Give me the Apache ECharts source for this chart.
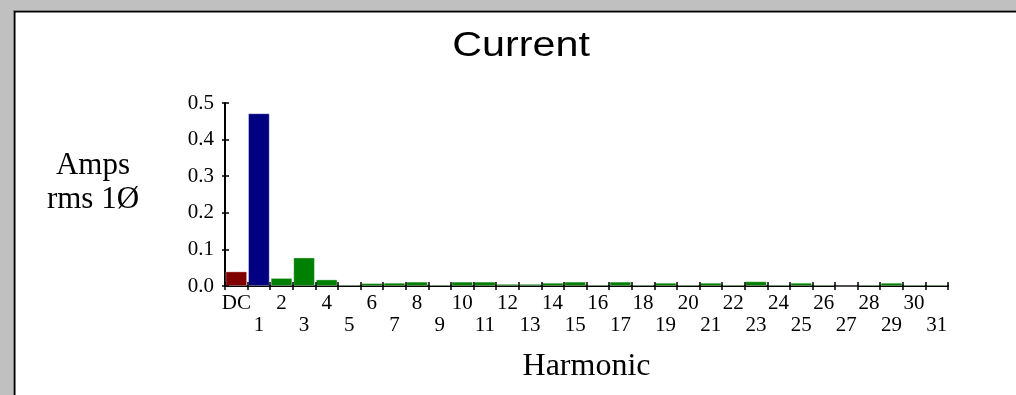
<!DOCTYPE html>
<html>
<head>
<meta charset="utf-8">
<title>Current</title>
<script src="https://cdn.jsdelivr.net/npm/echarts@6/dist/echarts.min.js"></script>
<style>
  html, body { margin: 0; padding: 0; background: #ffffff; }
  #chart { width: 1016px; height: 395px; }
</style>
</head>
<body>
<div id="chart"></div>
<script>
// Harmonic spectrum of the phase current
const harmonics = ['DC', '1', '2', '3', '4', '5', '6', '7', '8', '9', '10', '11', '12', '13', '14', '15',
  '16', '17', '18', '19', '20', '21', '22', '23', '24', '25', '26', '27', '28', '29', '30', '31'];
const ampsRms = [0.040, 0.472, 0.022, 0.078, 0.018, 0.004, 0.008, 0.009, 0.012, 0.004, 0.012, 0.012,
  0.006, 0.006, 0.009, 0.012, 0.004, 0.012, 0.004, 0.009, 0.004, 0.009, 0.004, 0.013,
  0.004, 0.009, 0.004, 0.000, 0.004, 0.009, 0.004, 0.004];
const yTicks = [0, 0.1, 0.2, 0.3, 0.4, 0.5];

const SERIF = '"Liberation Serif", "Times New Roman", serif';
const SANS = '"Liberation Sans", Arial, sans-serif';

function barColor(i) {
  if (i === 0) return '#800000';   // DC component
  if (i === 1) return '#000080';   // fundamental
  return '#008000';                // harmonics
}

const chart = echarts.init(document.getElementById('chart'), null, { renderer: 'canvas' });

const yMin = yTicks[0];
const yMax = yTicks[yTicks.length - 1];
const yStep = yTicks[1] - yTicks[0];

chart.setOption({
  animation: false,
  backgroundColor: '#ffffff',
  title: [
    {
      // units caption beside the value axis
      text: 'Amps\nrms 1Ø',
      left: 93,
      top: 149,
      textAlign: 'center',
      padding: 0,
      textStyle: { fontFamily: SERIF, fontSize: 31, lineHeight: 34, fontWeight: 'normal', color: '#000000' }
    }
  ],
  graphic: [
    // window frame: grey band with sunken edge along top and left
    { type: 'rect', shape: { x: 0, y: 0, width: 1016, height: 10 }, style: { fill: '#c0c0c0' }, silent: true },
    { type: 'rect', shape: { x: 0, y: 0, width: 13, height: 395 }, style: { fill: '#c0c0c0' }, silent: true },
    { type: 'rect', shape: { x: 13, y: 10, width: 1003, height: 1 }, style: { fill: '#808080' }, silent: true },
    { type: 'rect', shape: { x: 13, y: 10, width: 1, height: 385 }, style: { fill: '#808080' }, silent: true },
    { type: 'rect', shape: { x: 14, y: 11, width: 1002, height: 1.5 }, style: { fill: '#000000' }, silent: true },
    { type: 'rect', shape: { x: 14, y: 11, width: 1.5, height: 384 }, style: { fill: '#000000' }, silent: true },
    {
      type: 'text', x: 521, y: 46, scaleX: 1.18, silent: true,
      style: {
        text: 'Current', font: '35px ' + SANS, fill: '#000000',
        textAlign: 'center', textVerticalAlign: 'middle'
      }
    }
  ],
  grid: { left: 225, right: 68, top: 103, bottom: 109, containLabel: false },
  xAxis: [
    {
      type: 'category',
      data: harmonics,
      boundaryGap: true,
      name: 'Harmonic',
      nameLocation: 'middle',
      nameGap: 65,
      nameTextStyle: { fontFamily: SERIF, fontSize: 32, color: '#000000' },
      axisLine: { show: true, onZero: false, lineStyle: { color: '#000000', width: 2 } },
      axisTick: { show: true, interval: 0, length: 4, lineStyle: { color: '#000000', width: 1.5 } },
      axisLabel: {
        interval: 0,
        margin: 6,
        fontFamily: SERIF,
        fontSize: 21,
        lineHeight: 22,
        color: '#000000',
        formatter: (v, i) => (i % 2 ? '\n' + v : v)
      },
      splitLine: { show: false }
    },
    {
      // inner half of the crossing tick marks
      type: 'category',
      data: harmonics,
      position: 'bottom',
      z: 5,
      axisLine: { show: false, onZero: false },
      axisTick: { show: true, inside: true, interval: 0, length: 4, lineStyle: { color: '#000000', width: 1.5 } },
      axisLabel: { show: false },
      splitLine: { show: false }
    }
  ],
  yAxis: [
    {
      type: 'value',
      min: yMin,
      max: yMax,
      interval: yStep,
      axisLine: { show: true, lineStyle: { color: '#000000', width: 2 } },
      axisTick: { show: true, length: 3, lineStyle: { color: '#000000', width: 1.5 } },
      axisLabel: {
        margin: 11,
        fontFamily: SERIF,
        fontSize: 21,
        color: '#000000',
        formatter: v => v.toFixed(1)
      },
      splitLine: { show: false }
    },
    {
      type: 'value',
      position: 'left',
      min: yMin,
      max: yMax,
      interval: yStep,
      z: 5,
      axisLine: { show: false },
      axisTick: { show: true, inside: true, length: 4, lineStyle: { color: '#000000', width: 1.5 } },
      axisLabel: { show: false },
      splitLine: { show: false }
    }
  ],
  series: [
    {
      type: 'bar',
      xAxisIndex: 0,
      yAxisIndex: 0,
      barCategoryGap: '4%',
      data: ampsRms.map((v, i) => ({
        value: v,
        itemStyle: { color: barColor(i) }
      })),
      itemStyle: { borderColor: 'rgba(255,255,255,0.35)', borderWidth: 1 }
    }
  ]
});
</script>
</body>
</html>
